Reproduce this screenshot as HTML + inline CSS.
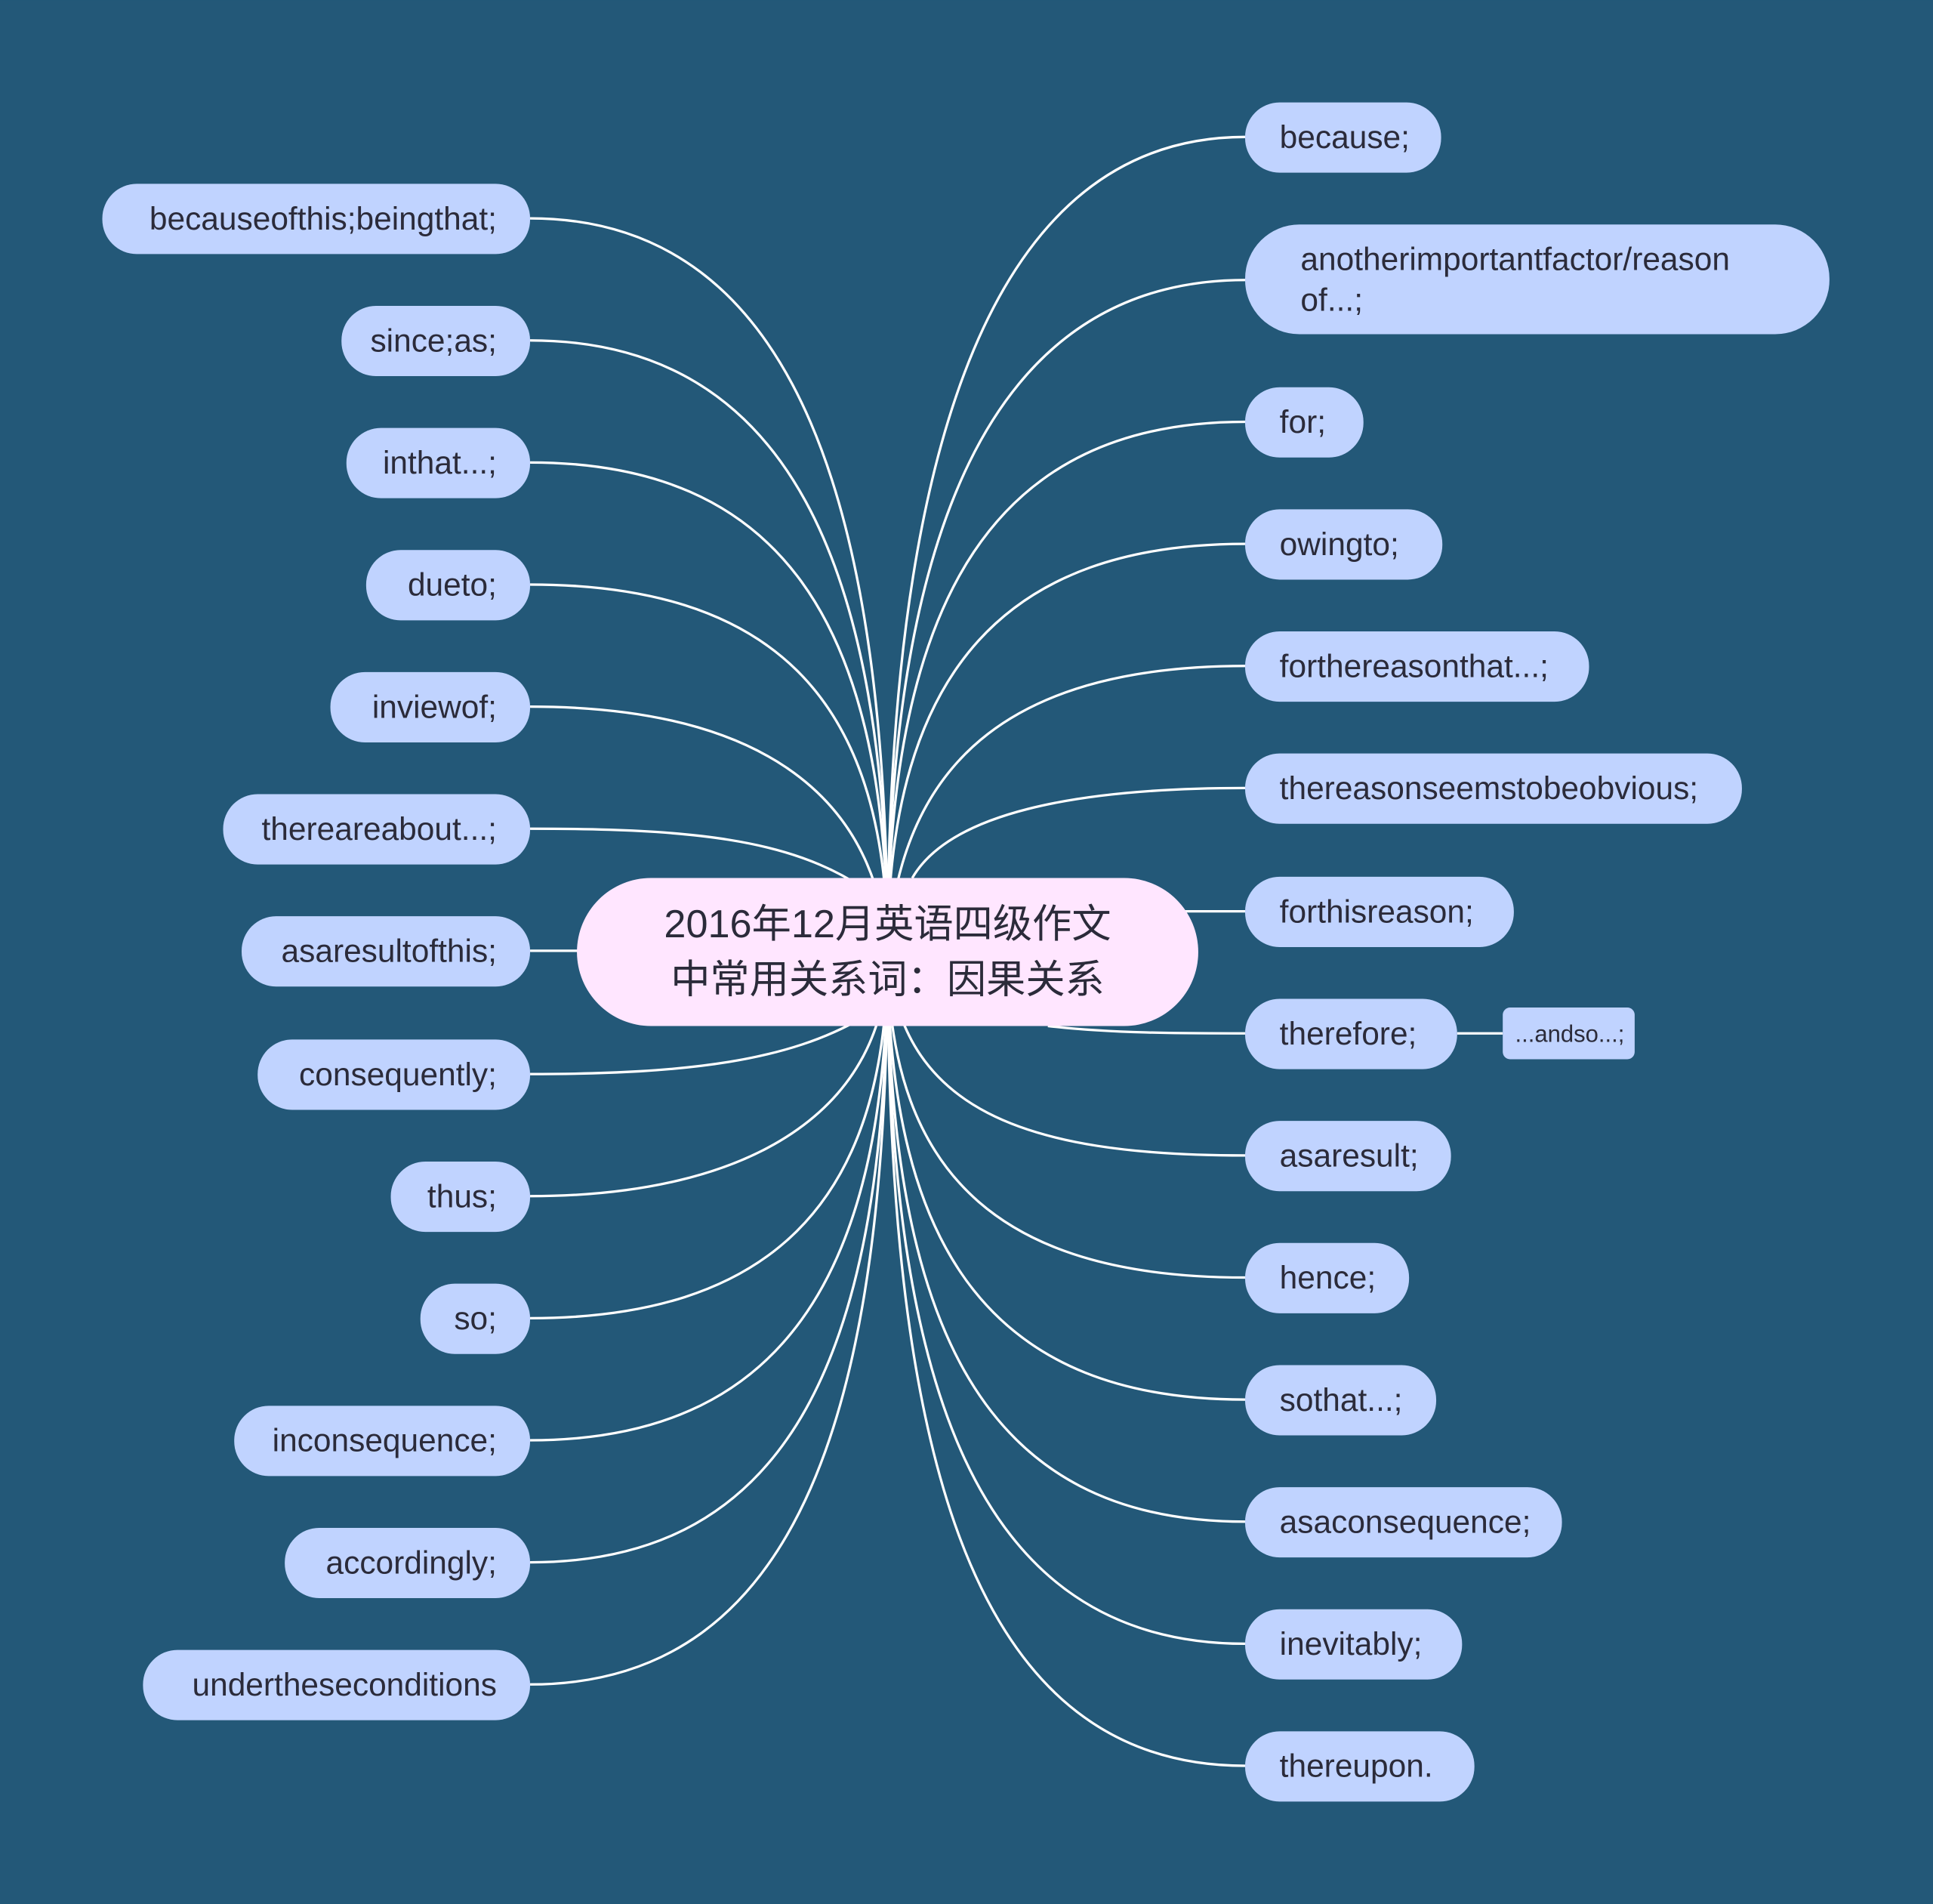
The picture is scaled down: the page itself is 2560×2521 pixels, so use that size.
<!DOCTYPE html>
<html><head><meta charset="utf-8"><style>
html,body{margin:0;padding:0;background:#235878;}
svg{display:block}
text{font-family:"Liberation Sans","Noto Sans CJK SC",sans-serif;fill:#2b2b3a;}
</style></head><body>
<svg width="2560" height="2521" viewBox="0 0 1568 1544" xmlns="http://www.w3.org/2000/svg">
<rect width="1568" height="1544" fill="#235878"/>
<g fill="none" stroke="#ffffff" stroke-width="2">
<path d="M430,177 C650,177 720,420 720,772"/>
<path d="M430,276 C640,276 720,460 720,772"/>
<path d="M430,375 C630,375 720,500 720,772"/>
<path d="M430,474 C620,474 720,560 720,772"/>
<path d="M430,573 C610,573 710,640 720,772"/>
<path d="M430,672 C560,672 640,680 700,720"/>
<path d="M430,771 L470,771"/>
<path d="M430,871 C560,871 640,860 700,825"/>
<path d="M430,970 C610,970 720,900 720,772"/>
<path d="M430,1069 C620,1069 720,980 720,772"/>
<path d="M430,1168 C630,1168 720,1040 720,772"/>
<path d="M430,1267 C640,1267 720,1100 720,772"/>
<path d="M430,1366 C650,1366 720,1140 720,772"/>
<path d="M1010,111 C790,111 720,400 720,772"/>
<path d="M1010,227 C800,227 720,440 720,772"/>
<path d="M1010,342 C810,342 720,480 720,772"/>
<path d="M1010,441 C820,441 720,540 720,772"/>
<path d="M1010,540 C830,540 730,610 720,772"/>
<path d="M1010,639 C870,639 770,660 740,712"/>
<path d="M960,739 L1010,739"/>
<path d="M850,832 C900,838 960,838 1010,838"/>
<path d="M1182,838 L1219,838"/>
<path d="M1010,937 C830,937 730,900 720,772"/>
<path d="M1010,1036 C820,1036 720,960 720,772"/>
<path d="M1010,1135 C810,1135 720,1020 720,772"/>
<path d="M1010,1234 C800,1234 720,1080 720,772"/>
<path d="M1010,1333 C790,1333 720,1120 720,772"/>
<path d="M1010,1432 C780,1432 720,1160 720,772"/>
</g>
<g fill="#c0d3ff">
<rect x="83" y="149" width="347" height="57" rx="28"/>
<rect x="277" y="248" width="153" height="57" rx="28"/>
<rect x="281" y="347" width="149" height="57" rx="28"/>
<rect x="297" y="446" width="133" height="57" rx="28"/>
<rect x="268" y="545" width="162" height="57" rx="28"/>
<rect x="181" y="644" width="249" height="57" rx="28"/>
<rect x="196" y="743" width="234" height="57" rx="28"/>
<rect x="209" y="843" width="221" height="57" rx="28"/>
<rect x="317" y="942" width="113" height="57" rx="28"/>
<rect x="341" y="1041" width="89" height="57" rx="28"/>
<rect x="190" y="1140" width="240" height="57" rx="28"/>
<rect x="231" y="1239" width="199" height="57" rx="28"/>
<rect x="116" y="1338" width="314" height="57" rx="28"/>
<rect x="1010" y="83" width="159" height="57" rx="28"/>
<rect x="1010" y="182" width="474" height="89" rx="44"/>
<rect x="1010" y="314" width="96" height="57" rx="28"/>
<rect x="1010" y="413" width="160" height="57" rx="28"/>
<rect x="1010" y="512" width="279" height="57" rx="28"/>
<rect x="1010" y="611" width="403" height="57" rx="28"/>
<rect x="1010" y="711" width="218" height="57" rx="28"/>
<rect x="1010" y="810" width="172" height="57" rx="28"/>
<rect x="1219" y="817" width="107" height="42" rx="6"/>
<rect x="1010" y="909" width="167" height="57" rx="28"/>
<rect x="1010" y="1008" width="133" height="57" rx="28"/>
<rect x="1010" y="1107" width="155" height="57" rx="28"/>
<rect x="1010" y="1206" width="257" height="57" rx="28"/>
<rect x="1010" y="1305" width="176" height="57" rx="28"/>
<rect x="1010" y="1404" width="186" height="57" rx="28"/>
</g>
<rect x="468" y="712" width="504" height="120" rx="60" fill="#ffe6ff"/>
<g font-size="26" text-anchor="end">
<text x="403" y="186">becauseofthis;beingthat;</text>
<text x="403" y="285">since;as;</text>
<text x="403" y="384">inthat...;</text>
<text x="403" y="483">dueto;</text>
<text x="403" y="582">inviewof;</text>
<text x="403" y="681">thereareabout...;</text>
<text x="403" y="780">asaresultofthis;</text>
<text x="403" y="880">consequently;</text>
<text x="403" y="979">thus;</text>
<text x="403" y="1078">so;</text>
<text x="403" y="1177">inconsequence;</text>
<text x="403" y="1276">accordingly;</text>
<text x="403" y="1375">undertheseconditions</text>
</g>
<g font-size="26">
<text x="1038" y="120">because;</text>
<text x="1055" y="219">anotherimportantfactor/reason</text>
<text x="1055" y="252">of...;</text>
<text x="1038" y="351">for;</text>
<text x="1038" y="450">owingto;</text>
<text x="1038" y="549">forthereasonthat...;</text>
<text x="1038" y="648">thereasonseemstobeobvious;</text>
<text x="1038" y="748">forthisreason;</text>
<text x="1038" y="847">therefore;</text>
<text x="1038" y="946">asaresult;</text>
<text x="1038" y="1045">hence;</text>
<text x="1038" y="1144">sothat...;</text>
<text x="1038" y="1243">asaconsequence;</text>
<text x="1038" y="1342">inevitably;</text>
<text x="1038" y="1441">thereupon.</text>
<text x="1229" y="845" font-size="19">...andso...;</text>
</g>
<g font-size="32" text-anchor="middle">
<text x="720" y="760">2016年12月英语四级作文</text>
<text x="720" y="805">中常用关系词：因果关系</text>
</g>
</svg>
</body></html>
